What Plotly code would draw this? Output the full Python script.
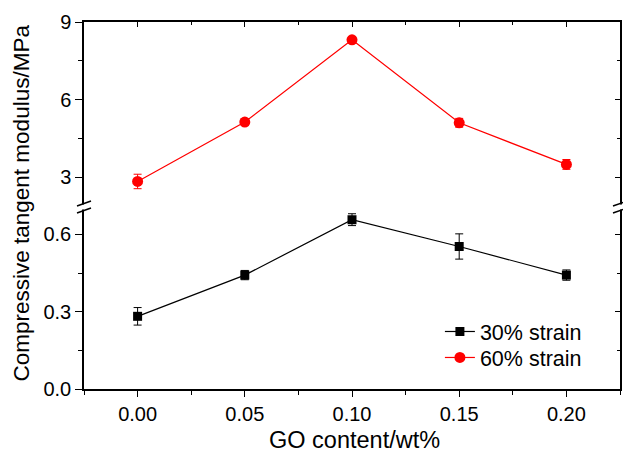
import plotly.graph_objects as go

go_content = [0.00, 0.05, 0.10, 0.15, 0.20]
strain30 = [0.282, 0.442, 0.657, 0.553, 0.442]
strain30_err = [0.034, 0.018, 0.023, 0.049, 0.020]
strain60 = [2.83, 5.13, 8.31, 5.10, 3.49]
strain60_err = [0.28, 0.12, 0.12, 0.17, 0.19]

xticks = [0.00, 0.05, 0.10, 0.15, 0.20]
lower_ticks = [0.0, 0.3, 0.6]
upper_ticks = [3, 6, 9]

FONT = "Liberation Sans, Arial, sans-serif"

fig = go.Figure()
fig.add_trace(go.Scatter(
    x=go_content, y=strain30, name="30% strain", mode="lines+markers",
    xaxis="x", yaxis="y", legend="legend",
    line=dict(color="black", width=1.2),
    marker=dict(symbol="square", size=9, color="black"),
    error_y=dict(type="data", array=strain30_err, visible=True, color="black", thickness=1, width=4),
))
fig.add_trace(go.Scatter(
    x=go_content, y=strain60, name="60% strain", mode="lines+markers",
    xaxis="x", yaxis="y2", legend="legend2",
    line=dict(color="#ff0000", width=1.2),
    marker=dict(symbol="circle", size=11, color="#ff0000"),
    error_y=dict(type="data", array=strain60_err, visible=True, color="#ff0000", thickness=1, width=4),
))

axis_common = dict(showline=True, linecolor="black", linewidth=1.5, showgrid=False, zeroline=False,
                   automargin=False,
                   tickcolor="black", tickwidth=1.2, tickfont=dict(family=FONT, size=20, color="black"))

xr = [-0.025, 0.225]
lr = [0, 0.712]
ur = [1.9, 9]

legend_style = dict(xanchor="left", yanchor="top", bgcolor="rgba(0,0,0,0)",
                    font=dict(family=FONT, size=21.5, color="black"))

fig.update_layout(
    width=623, height=454,
    margin=dict(l=84, r=3, t=22, b=65, autoexpand=False),
    plot_bgcolor="white", paper_bgcolor="white",
    font=dict(family=FONT, color="black"),
    showlegend=True,
    legend=dict(x=0.664, y=0.2125, **legend_style),
    legend2=dict(x=0.664, y=0.1417, **legend_style),
    xaxis=dict(domain=[0, 1], range=xr, anchor="y", tickvals=xticks, tickformat=".2f",
               ticks="outside", ticklen=6,
               minor=dict(dtick=0.025, tick0=0, ticks="outside", ticklen=4, tickcolor="black"),
               **axis_common),
    xaxis2=dict(overlaying="x", side="top", anchor="y2", range=xr, tickvals=xticks,
                ticks="inside", ticklen=5, showticklabels=False,
                minor=dict(dtick=0.025, tick0=0, ticks="inside", ticklen=3, tickcolor="black"),
                **axis_common),
    yaxis=dict(domain=[0, 0.5], range=lr, anchor="x", tickvals=lower_ticks, tickformat=".1f",
               ticks="outside", ticklen=7,
               minor=dict(dtick=0.15, tick0=0, ticks="outside", ticklen=4, tickcolor="black"),
               **axis_common),
    yaxis2=dict(domain=[0.5, 1], range=ur, anchor="x", tickvals=upper_ticks,
                ticks="outside", ticklen=7,
                minor=dict(dtick=1.5, tick0=0, ticks="outside", ticklen=4, tickcolor="black"),
                **axis_common),
    yaxis3=dict(overlaying="y", side="right", anchor="x", range=lr, tickvals=lower_ticks,
                ticks="inside", ticklen=5, showticklabels=False,
                minor=dict(dtick=0.15, tick0=0, ticks="inside", ticklen=3, tickcolor="black"),
                **axis_common),
    yaxis4=dict(overlaying="y2", side="right", anchor="x", range=ur, tickvals=upper_ticks,
                ticks="inside", ticklen=5, showticklabels=False,
                minor=dict(dtick=1.5, tick0=0, ticks="inside", ticklen=3, tickcolor="black"),
                **axis_common),
)

# helper empty traces so overlay axes are drawn
fig.add_trace(go.Scatter(x=[], y=[], xaxis="x2", yaxis="y4", showlegend=False, hoverinfo="skip"))
fig.add_trace(go.Scatter(x=[], y=[], xaxis="x", yaxis="y3", showlegend=False, hoverinfo="skip"))

fig.add_annotation(text="Compressive tangent modulus/MPa", xref="paper", yref="paper",
                   x=0, y=0.5, xanchor="center", yanchor="middle", xshift=-63, yshift=2, textangle=-90,
                   showarrow=False, font=dict(family=FONT, size=22.5, color="black"))
fig.add_annotation(text="GO content/wt%", xref="paper", yref="paper",
                   x=0.5, y=0, xanchor="center", yanchor="middle", yshift=-51, xshift=2,
                   showarrow=False, font=dict(family=FONT, size=23.5, color="black"))

# axis break marks
for xp in (0, 1):
    fig.add_shape(type="rect", xref="paper", yref="paper", xsizemode="pixel", ysizemode="pixel",
                  xanchor=xp, yanchor=0.5, x0=-3, x1=3, y0=-4, y1=1,
                  fillcolor="white", line=dict(width=0), layer="above")
    for dy in (2, -5):
        fig.add_shape(type="line", xref="paper", yref="paper", xsizemode="pixel", ysizemode="pixel",
                      xanchor=xp, yanchor=0.5, x0=-7, x1=7, y0=dy - 2.5, y1=dy + 2.5,
                      line=dict(color="black", width=1.5), layer="above")

fig.write_html("out.html")
